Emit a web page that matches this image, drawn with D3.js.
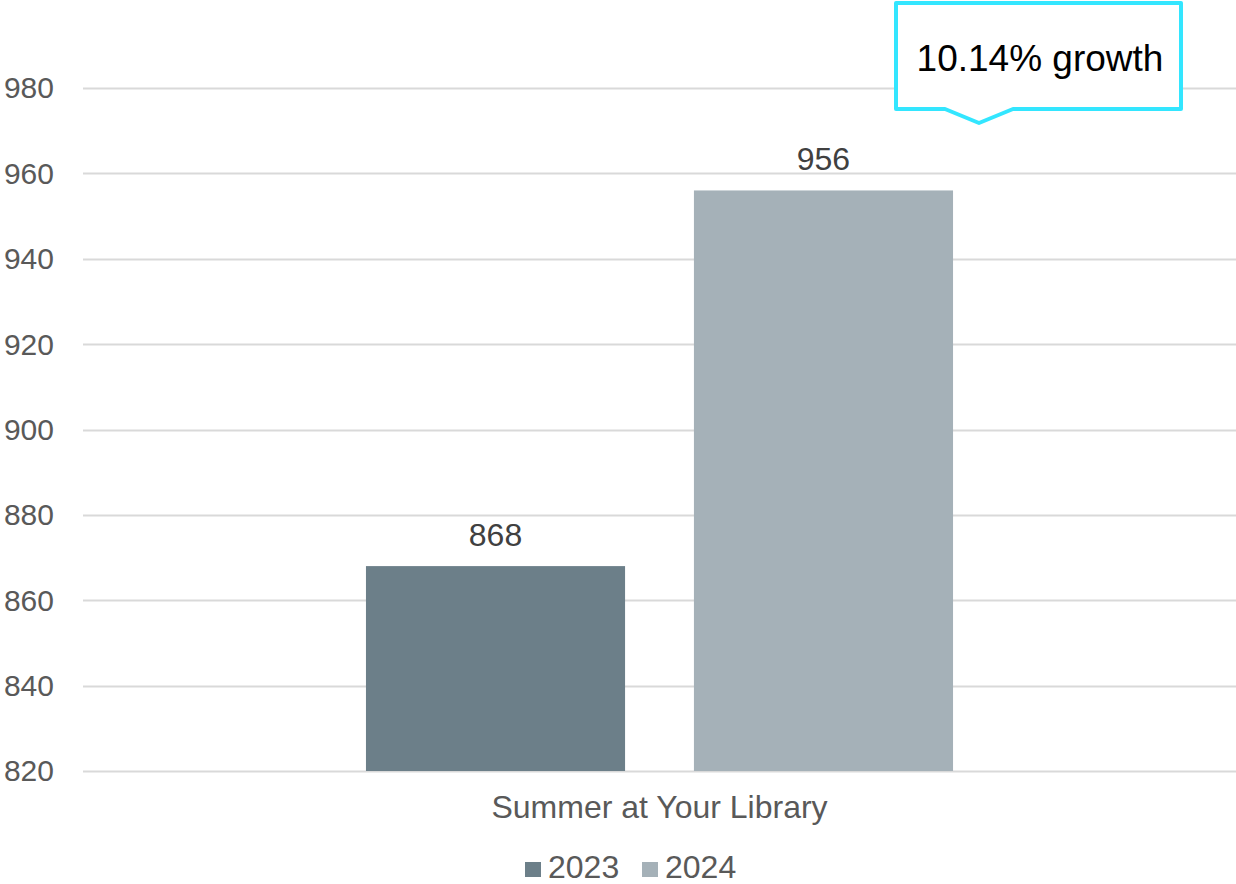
<!DOCTYPE html>
<html>
<head>
<meta charset="utf-8">
<script src="https://cdn.jsdelivr.net/npm/d3@7/dist/d3.min.js"></script>
<style>
  html, body { margin: 0; padding: 0; background: #fff; }
  svg { display: block; font-family: Arial, "Liberation Sans", sans-serif; }
</style>
</head>
<body>
<svg id="chart" width="1236" height="884"></svg>
<script>
// Participation figures for the summer programme
const categories = ["Summer at Your Library"];
const seriesNames = ["2023", "2024"];
const values2023 = [868];
const values2024 = [956];
const seriesColors = ["#6C7F89", "#A5B1B8"];
const yTicks = [820, 840, 860, 880, 900, 920, 940, 960, 980];
const calloutText = "10.14% growth";

const svg = d3.select("#chart");
const margin = { top: 88, right: 0, bottom: 113, left: 83 };
const W = 1236, H = 884;

const y = d3.scaleLinear().domain([820, 980]).range([H - margin.bottom, margin.top]);
const x0 = d3.scaleBand().domain(categories).range([margin.left, W - margin.right])
  .paddingInner(0).paddingOuter(0.482);
const x1 = d3.scaleBand().domain(seriesNames).range([0, x0.bandwidth()])
  .paddingInner(0.21).paddingOuter(0);

// gridlines
const grid = svg.append("g");
grid.selectAll("line").data(yTicks).join("line")
  .attr("x1", margin.left).attr("x2", W)
  .attr("y1", d => Math.round(y(d)) + 0.5).attr("y2", d => Math.round(y(d)) + 0.5)
  .attr("stroke", "#D9D9D9").attr("stroke-width", 2);

// y-axis labels
const yAxis = d3.axisLeft(y).tickValues(yTicks).tickSize(0).tickPadding(0);
const yg = svg.append("g").attr("transform", `translate(54,0)`).call(yAxis);
yg.select(".domain").remove();
yg.selectAll("text").attr("font-size", 30).attr("fill", "#595959")
  .attr("font-family", "Arial, 'Liberation Sans', sans-serif").attr("dy", "0.33em");

// bars
const rows = categories.map((c, i) => ({
  cat: c,
  vals: [{ s: seriesNames[0], v: values2023[i] }, { s: seriesNames[1], v: values2024[i] }]
}));
const color = d3.scaleOrdinal().domain(seriesNames).range(seriesColors);

const groups = svg.append("g").selectAll("g").data(rows).join("g")
  .attr("transform", d => `translate(${x0(d.cat)},0)`);
groups.selectAll("rect").data(d => d.vals).join("rect")
  .attr("x", d => x1(d.s)).attr("width", x1.bandwidth())
  .attr("y", d => y(d.v)).attr("height", d => y(820) - y(d.v))
  .attr("fill", d => color(d.s));
groups.selectAll("text").data(d => d.vals).join("text")
  .attr("x", d => x1(d.s) + x1.bandwidth() / 2).attr("y", d => y(d.v) - 20)
  .attr("text-anchor", "middle").attr("font-size", 32).attr("fill", "#404040")
  .text(d => d.v);

// category label
svg.append("g").selectAll("text").data(categories).join("text")
  .attr("x", d => x0(d) + x0.bandwidth() / 2).attr("y", 818)
  .attr("text-anchor", "middle").attr("font-size", 32).attr("fill", "#595959")
  .text(d => d);

// legend
const legend = svg.append("g");
const legendX = [525, 642];
seriesNames.forEach((s, i) => {
  legend.append("rect").attr("x", legendX[i]).attr("y", 862).attr("width", 16).attr("height", 15)
    .attr("fill", color(s));
  legend.append("text").attr("x", legendX[i] + 23).attr("y", 878)
    .attr("font-size", 32).attr("fill", "#595959").text(s);
});

// growth callout
const bx0 = 896, bx1 = 1181, by0 = 3, by1 = 109;
const tipX = 979, tipY = 123;
const callout = svg.append("g");
callout.append("path")
  .attr("d", `M${bx0},${by0} L${bx1},${by0} L${bx1},${by1} L1013,${by1} L${tipX},${tipY} L945,${by1} L${bx0},${by1} Z`)
  .attr("fill", "#fff").attr("stroke", "#33E6FF").attr("stroke-width", 4)
  .attr("stroke-linejoin", "round");
callout.append("text").attr("x", 1040).attr("y", 71)
  .attr("text-anchor", "middle").attr("font-size", 37).attr("fill", "#000")
  .text(calloutText);
</script>
</body>
</html>
